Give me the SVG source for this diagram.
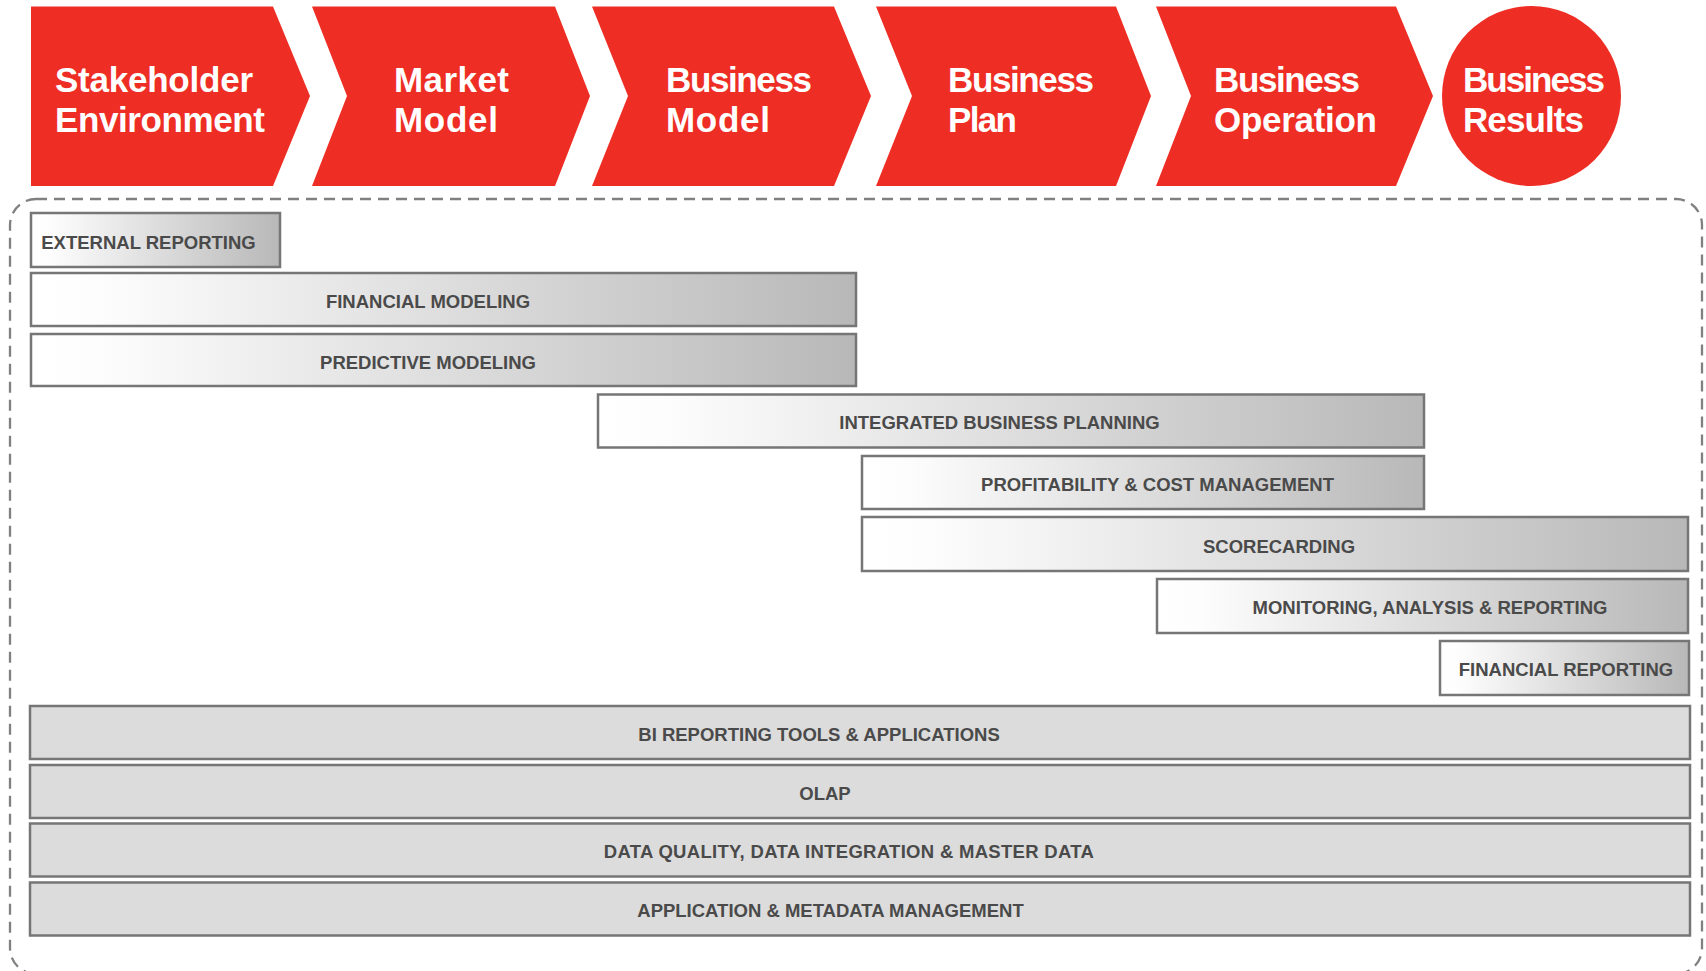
<svg xmlns="http://www.w3.org/2000/svg" width="1706" height="971" viewBox="0 0 1706 971">
  <defs>
    <linearGradient id="fade" x1="0" y1="0" x2="1" y2="0">
      <stop offset="0" stop-color="#ffffff"/>
      <stop offset="0.08" stop-color="#fdfdfd"/>
      <stop offset="1" stop-color="#b8b8b8"/>
    </linearGradient>
  </defs>
  <style>
    .stage { fill: #ee2e24; }
    .stage-text { font-family: "Liberation Sans", Arial, sans-serif; font-weight: bold; font-size: 35px; fill: #ffffff; }
    .bar { fill: url(#fade); stroke: #767676; stroke-width: 2.5; }
    .base { fill: #dcdcdc; stroke: #767676; stroke-width: 2.5; }
    .label { font-family: "Liberation Sans", Arial, sans-serif; font-weight: bold; font-size: 18.5px; fill: #4a4a4a; text-anchor: middle; }
    .frame { fill: none; stroke: #808080; stroke-width: 2.3; stroke-dasharray: 11 7; }
  </style>

  <rect x="0" y="0" width="1706" height="971" fill="#ffffff"/>

  <!-- value chain stages -->
  <g id="stage-stakeholder">
    <polygon class="stage" points="31,6.5 273,6.5 310,96 273,186 31,186"/>
    <text class="stage-text" x="55" y="92" textLength="198">Stakeholder</text>
    <text class="stage-text" x="55" y="132" textLength="210">Environment</text>
  </g>
  <g id="stage-market">
    <polygon class="stage" points="312,6.5 555,6.5 590,96 555,186 312,186 347,96"/>
    <text class="stage-text" x="394" y="92" textLength="115">Market</text>
    <text class="stage-text" x="394" y="132" textLength="104">Model</text>
  </g>
  <g id="stage-business-model">
    <polygon class="stage" points="592,6.5 834,6.5 871,96 834,186 592,186 628,96"/>
    <text class="stage-text" x="666" y="92" textLength="146">Business</text>
    <text class="stage-text" x="666" y="132" textLength="104">Model</text>
  </g>
  <g id="stage-business-plan">
    <polygon class="stage" points="876,6.5 1116,6.5 1151,96 1116,186 876,186 912,96"/>
    <text class="stage-text" x="948" y="92" textLength="146">Business</text>
    <text class="stage-text" x="948" y="132" textLength="69">Plan</text>
  </g>
  <g id="stage-business-operation">
    <polygon class="stage" points="1156,6.5 1396,6.5 1433,96 1396,186 1156,186 1191,96"/>
    <text class="stage-text" x="1214" y="92" textLength="146">Business</text>
    <text class="stage-text" x="1214" y="132" textLength="163">Operation</text>
  </g>
  <g id="stage-business-results">
    <ellipse class="stage" cx="1531.5" cy="96" rx="89.5" ry="90"/>
    <text class="stage-text" x="1463" y="92" textLength="142">Business</text>
    <text class="stage-text" x="1463" y="132" textLength="121">Results</text>
  </g>

  <!-- dashed frame around the capability stack -->
  <g id="frame">
    <rect class="frame" x="10" y="199" width="1692" height="775" rx="26" ry="26"/>
  </g>

  <!-- capability bars -->
  <g id="external-reporting">
    <rect class="bar" x="31" y="213" width="249" height="54"/>
    <text class="label" x="148.5" y="248.5">EXTERNAL REPORTING</text>
  </g>
  <g id="financial-modeling">
    <rect class="bar" x="31" y="273" width="825" height="53"/>
    <text class="label" x="428" y="308">FINANCIAL MODELING</text>
  </g>
  <g id="predictive-modeling">
    <rect class="bar" x="31" y="334" width="825" height="52"/>
    <text class="label" x="428" y="368.5">PREDICTIVE MODELING</text>
  </g>
  <g id="integrated-business-planning">
    <rect class="bar" x="598" y="394.5" width="826" height="53"/>
    <text class="label" x="999.5" y="429">INTEGRATED BUSINESS PLANNING</text>
  </g>
  <g id="profitability-cost-management">
    <rect class="bar" x="862" y="456" width="562" height="53"/>
    <text class="label" x="1157.5" y="491">PROFITABILITY &amp; COST MANAGEMENT</text>
  </g>
  <g id="scorecarding">
    <rect class="bar" x="862" y="517" width="826" height="54"/>
    <text class="label" x="1279" y="552.5">SCORECARDING</text>
  </g>
  <g id="monitoring-analysis-reporting">
    <rect class="bar" x="1157" y="579" width="531" height="54"/>
    <text class="label" x="1430" y="613.5">MONITORING, ANALYSIS &amp; REPORTING</text>
  </g>
  <g id="financial-reporting">
    <rect class="bar" x="1440" y="641" width="249" height="54"/>
    <text class="label" x="1566" y="675.5">FINANCIAL REPORTING</text>
  </g>

  <!-- platform layers -->
  <g id="bi-reporting-tools">
    <rect class="base" x="30" y="706" width="1660" height="53"/>
    <text class="label" x="819" y="740.5">BI REPORTING TOOLS &amp; APPLICATIONS</text>
  </g>
  <g id="olap">
    <rect class="base" x="30" y="765" width="1660" height="53"/>
    <text class="label" x="825" y="799.5">OLAP</text>
  </g>
  <g id="data-quality">
    <rect class="base" x="30" y="823.5" width="1660" height="53"/>
    <text class="label" x="849" y="858" letter-spacing="0.3">DATA QUALITY, DATA INTEGRATION &amp; MASTER DATA</text>
  </g>
  <g id="application-metadata">
    <rect class="base" x="30" y="882.5" width="1660" height="53"/>
    <text class="label" x="830.5" y="917">APPLICATION &amp; METADATA MANAGEMENT</text>
  </g>

  <g id="connectors"></g>
</svg>
